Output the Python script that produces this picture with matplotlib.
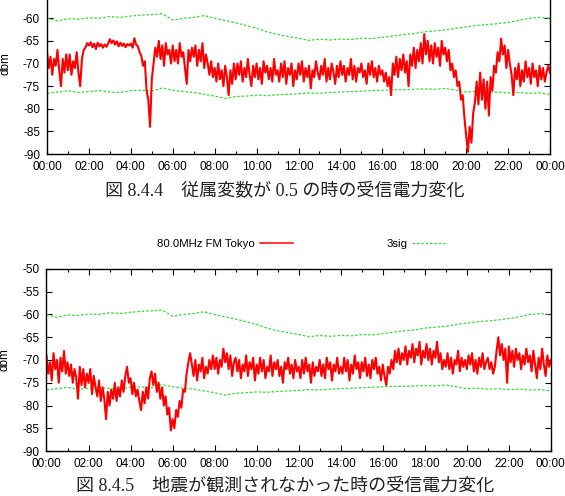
import numpy as np
import matplotlib
matplotlib.use("Agg")
import matplotlib.pyplot as plt
from matplotlib.ticker import MultipleLocator, FixedLocator

plt.rcParams["font.family"] = ["Liberation Sans", "Noto Sans CJK JP"]
plt.rcParams["axes.unicode_minus"] = False

# received power (dBm), one row = one hour, 12 samples per hour (5 min)
red_top_rows = [
    [-67.5, -71, -68.5, -72.5, -69, -70.5, -67, -71.5, -75, -69, -72, -68],
    [-71.5, -68, -72.5, -69.5, -71, -67.5, -72, -75, -69, -67, -66.5, -65.5],
    [-66, -65.3, -66.4, -65.6, -66.8, -65.4, -66.2, -65.7, -66.5, -65.8, -66.3, -65.6],
    [-64.6, -65.5, -64.9, -65.8, -65.1, -66.2, -65.4, -66.1, -65.6, -66.4, -65.7, -66.0],
    [-65.6, -66.5, -64.4, -65.8, -66.2, -67.5, -68.3, -70.5, -69.5, -76, -78, -84],
    [-73.5, -70, -66.5, -68.5, -65, -69, -66, -70.5, -65.5, -68, -67, -70],
    [-66, -69.5, -67, -70, -65.5, -68.5, -67.5, -71, -74.5, -67, -69.5, -66.5],
    [-68.5, -66, -70.5, -67, -69.5, -65.5, -71, -68, -70, -72.5, -69.5, -73],
    [-71, -74, -70, -73.5, -71.5, -75, -70.5, -73, -77, -71.5, -74.5, -70],
    [-73.5, -70, -72.5, -69.5, -74, -71, -73, -69, -72.5, -75, -70.5, -73],
    [-70, -73.5, -71, -74.5, -69.5, -72, -70.5, -73.5, -71, -74, -69, -72.5],
    [-71.5, -74, -70, -73, -69.5, -74.5, -71, -72.5, -70, -75, -71.5, -73.5],
    [-70, -72.5, -69.5, -74, -71, -73, -70.5, -75.5, -71.5, -73, -69.5, -72],
    [-73.5, -70.5, -72.5, -69, -74, -71, -73.5, -70, -72, -74.5, -70.5, -73],
    [-69.5, -72.5, -70.5, -74, -71, -72.5, -69, -73.5, -70.5, -74, -71, -72],
    [-70, -73, -71.5, -74.5, -70, -72.5, -69.5, -73, -71, -74, -70.5, -72.5],
    [-71.5, -74, -72, -75, -73, -77, -70, -72.5, -68.5, -73, -69, -71.5],
    [-68, -72, -69.5, -75, -68, -70.5, -66.5, -71, -67, -69.5, -65.5, -70],
    [-63.5, -68, -65, -69.5, -66, -70, -65.5, -68.5, -66.5, -70.5, -65, -68],
    [-66.5, -69.5, -67, -71.5, -70, -73, -71.5, -75, -74, -78, -77, -82],
    [-86, -89.5, -84, -87.5, -81, -78.5, -74, -79, -72, -78, -73.5, -80],
    [-74, -81.5, -73, -76, -70.5, -72, -67.5, -69.5, -64.5, -68, -66, -71],
    [-67, -70, -72.5, -77, -71, -73.5, -70, -75, -71.5, -74, -69.5, -73],
    [-71, -74.5, -70, -73, -71.5, -75, -70.5, -73.5, -71, -74, -72, -70.5],
    [-72],
]

red_bottom_rows = [
    [-69, -73, -70.5, -74.5, -68.5, -72, -70, -75, -69.5, -72.5, -68, -73],
    [-70.5, -73.5, -71, -75, -72, -74, -78.5, -71.5, -75.5, -72, -76, -73],
    [-75, -72, -77.5, -73.5, -76, -78, -74.5, -79, -76, -78.5, -83, -77],
    [-80, -76.5, -78.5, -75, -79, -76, -78, -74.5, -77, -73.5, -71.5, -75],
    [-74, -77.5, -75, -78, -76.5, -79, -81, -77, -79.5, -76, -78.5, -74],
    [-72.5, -75.5, -73, -77, -75, -78.5, -76, -80, -78, -82, -80.5, -85.5],
    [-83, -85, -81, -82.5, -79, -80.5, -76.5, -77, -73, -70.5, -68.5, -71],
    [-73.5, -70, -74.5, -71, -72.5, -69.5, -74, -71.5, -73, -70, -72, -69],
    [-72, -69.5, -73, -70, -71.5, -67.5, -70.5, -68.5, -72, -69, -73.5, -70.5],
    [-69.5, -72.5, -70, -74, -71, -72.5, -69, -73.5, -70.5, -72, -69.5, -74.5],
    [-71, -73, -69.5, -72.5, -70, -74, -71.5, -72.5, -69, -73.5, -70.5, -72],
    [-70, -73.5, -71.5, -75, -70.5, -72, -69.5, -73, -71, -74, -70, -72.5],
    [-71.5, -74, -70, -73, -69.5, -72.5, -71, -75, -70.5, -73.5, -71.5, -72.5],
    [-70, -73.5, -71, -74, -69.5, -72, -70.5, -74.5, -71, -72.5, -69.5, -73],
    [-71.5, -73, -69.5, -72.5, -70, -74.5, -71, -73, -69, -72, -70.5, -74],
    [-70.5, -72.5, -69.5, -73.5, -71, -74, -70, -72, -69.5, -73, -71.5, -74.5],
    [-71, -73.5, -75.5, -71.5, -73, -70, -72, -68, -70.5, -67.5, -71, -68.5],
    [-70, -67, -71, -68, -69.5, -66.5, -70.5, -67.5, -69, -66, -71, -68],
    [-69.5, -66.5, -70, -67.5, -71, -68, -69.5, -66, -70.5, -68.5, -72, -70],
    [-71.5, -68.5, -72, -69.5, -73, -70, -71, -68, -72.5, -69.5, -71.5, -70],
    [-72, -69, -71, -68.5, -72.5, -70, -73, -69.5, -71.5, -68.5, -72, -70.5],
    [-69.5, -72, -70.5, -73, -71.5, -68, -65, -69, -66.5, -70, -67.5, -75],
    [-67, -70.5, -68, -71.5, -67.5, -70, -68.5, -72, -69, -71, -67.5, -70.5],
    [-69, -72.5, -68, -71, -74, -69.5, -72, -67.5, -71, -73.5, -69, -71.5],
    [-70],
]

# 3 sigma band, every 30 min
sig_upper = [-60.0, -60.6, -60.1, -60.2, -59.9, -60.0, -59.6, -59.8, -59.5, -59.3,
             -59.2, -59.0, -60.4, -60.0, -59.8, -59.4, -60.0, -60.5, -61.0, -61.6,
             -62.2, -63.0, -63.6, -64.0, -64.4, -64.9, -64.6, -64.8, -64.6, -64.7,
             -64.4, -64.5, -64.2, -63.9, -63.6, -63.4, -63.0, -62.8, -62.6, -62.2,
             -61.9, -61.6, -61.4, -61.2, -60.9, -60.5, -60.0, -59.8, -60.0]
sig_lower = [-76.6, -76.3, -76.0, -76.4, -76.2, -76.0, -76.3, -76.4, -76.0, -75.9,
             -76.1, -75.4, -75.9, -76.2, -76.4, -76.8, -77.2, -77.7, -77.3, -77.2,
             -77.0, -77.1, -76.9, -76.8, -76.7, -76.5, -76.6, -76.4, -76.3, -76.2,
             -76.1, -76.0, -75.9, -75.8, -75.8, -75.7, -75.6, -75.7, -75.5, -75.9,
             -76.3, -76.2, -76.4, -76.3, -76.5, -76.4, -76.6, -76.5, -76.8]

hour_labels = ["00:00", "02:00", "04:00", "06:00", "08:00", "10:00", "12:00",
               "14:00", "16:00", "18:00", "20:00", "22:00", "00:00"]

captions = ["図 8.4.4\u3000従属変数が 0.5 の時の受信電力変化",
            "図 8.4.5\u3000地震が観測されなかった時の受信電力変化"]

red_top = np.concatenate(red_top_rows)
red_bottom = np.concatenate(red_bottom_rows)
t_red = np.arange(len(red_top)) / 12.0
t_sig = np.arange(len(sig_upper)) / 2.0

RED = "#ff0000"
GREEN = "#33dd33"

fig = plt.figure(figsize=(5.65, 4.96), dpi=100)
ax1 = fig.add_axes([0.0832, 0.6895, 0.8903, 0.3649])
ax2 = fig.add_axes([0.0823, 0.0907, 0.8927, 0.3670])


def style(ax):
    ax.set_xlim(0, 24)
    ax.set_ylim(-90, -50)
    ax.xaxis.set_major_locator(FixedLocator(np.arange(0, 25, 2)))
    ax.set_xticklabels(hour_labels)
    ax.xaxis.set_minor_locator(MultipleLocator(1))
    ax.yaxis.set_major_locator(FixedLocator(np.arange(-90, -49, 5)))
    ax.tick_params(which="both", direction="in", top=True, right=True,
                   labelsize=8.5, width=0.8)
    ax.tick_params(which="major", length=4)
    ax.tick_params(which="minor", length=2.5)
    ax.tick_params(axis="x", pad=5)
    ax.tick_params(axis="y", pad=5)
    for s in ax.spines.values():
        s.set_linewidth(1.0)
    ax.set_ylabel("dbm", fontsize=8.5)
    ax.yaxis.set_label_coords(-0.071, 0.5)


for ax, red in [(ax1, red_top), (ax2, red_bottom)]:
    ax.plot(t_sig, sig_upper, color=GREEN, lw=0.9, dashes=(2, 1.5))
    ax.plot(t_sig, sig_lower, color=GREEN, lw=0.9, dashes=(2, 1.5))
    ax.plot(t_red, red, color=RED, lw=1.5)
    style(ax)

# upper panel is cropped at the top of the page: -55 / -50 fall outside
ax1.set_yticklabels(["-90", "-85", "-80", "-75", "-70", "-65", "-60", "", ""])

# gnuplot-style key above the lower plot
h_red, = ax2.plot([], [], color=RED, lw=1.1, label="80.0MHz FM Tokyo")
h_sig, = ax2.plot([], [], color=GREEN, lw=0.9, dashes=(2, 1.5), label="3sig")
fig.legend(handles=[h_red, h_sig], loc="center", bbox_to_anchor=(301 / 565, 1 - 244 / 496),
           ncols=2, frameon=False, markerfirst=False, fontsize=8.2,
           handlelength=2.9, handletextpad=0.45, columnspacing=8.2)

cap_font = ["Liberation Serif", "Noto Sans CJK JP"]
fig.text(285 / 565, 1 - 192 / 496, captions[0], ha="center", va="center",
         fontsize=13, family=cap_font, color="#222222")
fig.text(285 / 565, 1 - 486 / 496, captions[1], ha="center", va="center",
         fontsize=13, family=cap_font, color="#222222")

fig.savefig("out.png", dpi=100)
